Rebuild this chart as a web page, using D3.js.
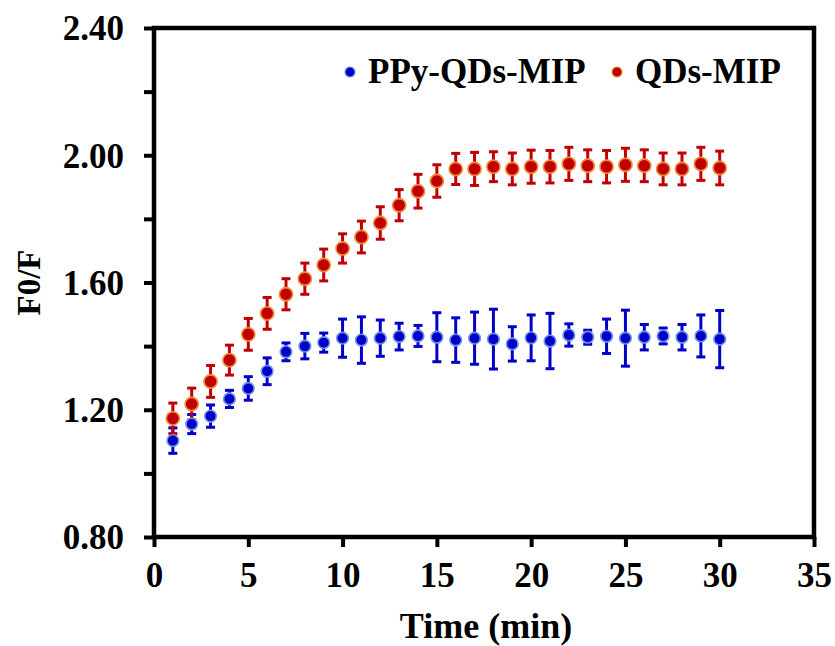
<!DOCTYPE html>
<html>
<head>
<meta charset="utf-8">
<script src="https://cdn.jsdelivr.net/npm/d3@7"></script>
<style>
  body { margin: 0; background: #fff; }
  svg text { font-family: "Times New Roman", "Liberation Serif", serif; font-weight: bold; fill: #000; }
</style>
</head>
<body>
<svg id="chart" width="835" height="646"></svg>
<script>
// time points (min)
const times = d3.range(1, 31);

// PPy-QDs-MIP
const ppyValues = [1.103, 1.155, 1.180, 1.234, 1.267, 1.321, 1.382, 1.400, 1.411, 1.425,
                   1.419, 1.425, 1.430, 1.432, 1.428, 1.419, 1.425, 1.422, 1.407, 1.426,
                   1.416, 1.435, 1.428, 1.431, 1.425, 1.428, 1.432, 1.428, 1.432, 1.422];
const ppyErrors = [0.040, 0.030, 0.035, 0.027, 0.037, 0.042, 0.028, 0.040, 0.030, 0.060,
                   0.073, 0.057, 0.042, 0.033, 0.077, 0.070, 0.082, 0.094, 0.054, 0.072,
                   0.087, 0.035, 0.022, 0.054, 0.088, 0.040, 0.025, 0.040, 0.066, 0.090];

// QDs-MIP
const qdsValues = [1.173, 1.218, 1.289, 1.356, 1.437, 1.503, 1.563, 1.612, 1.655, 1.707,
                   1.743, 1.787, 1.843, 1.887, 1.919, 1.957, 1.957, 1.964, 1.957, 1.964,
                   1.964, 1.973, 1.967, 1.964, 1.970, 1.967, 1.957, 1.957, 1.973, 1.960];
const qdsErrors = [0.048, 0.050, 0.050, 0.047, 0.050, 0.050, 0.049, 0.049, 0.050, 0.046,
                   0.050, 0.051, 0.049, 0.053, 0.051, 0.049, 0.052, 0.047, 0.050, 0.052,
                   0.051, 0.052, 0.050, 0.051, 0.052, 0.050, 0.050, 0.050, 0.052, 0.053];

const xTicks = [0, 5, 10, 15, 20, 25, 30, 35];
const yTicks = [0.8, 1.0, 1.2, 1.4, 1.6, 1.8, 2.0, 2.2, 2.4];
const yLabelTicks = [0.8, 1.2, 1.6, 2.0, 2.4];

const margin = { left: 154, right: 21, top: 28, bottom: 109 };
const width = 835, height = 646;

const svg = d3.select("#chart");

const x = d3.scaleLinear().domain([0, 35]).range([margin.left, width - margin.right]);
const y = d3.scaleLinear().domain([0.8, 2.4]).range([height - margin.bottom, margin.top]);

const series = [
    { name: "PPy-QDs-MIP", values: ppyValues, errors: ppyErrors, fill: "#0000C8", edge: "#6E96E6", r: 5.8, bar: "#0000C8" },
    { name: "QDs-MIP", values: qdsValues, errors: qdsErrors, fill: "#C00000", edge: "#F08C3C", r: 6.6, bar: "#C00000" }
];

// error bars first
series.forEach(s => {
    const g = svg.append("g").attr("stroke", s.bar).attr("stroke-width", 3);
    times.forEach((t, i) => {
        const lo = y(s.values[i] - s.errors[i]), hi = y(s.values[i] + s.errors[i]);
        g.append("line").attr("x1", x(t)).attr("x2", x(t)).attr("y1", lo).attr("y2", hi);
        g.append("line").attr("x1", x(t) - 4.5).attr("x2", x(t) + 4.5).attr("y1", lo).attr("y2", lo);
        g.append("line").attr("x1", x(t) - 4.5).attr("x2", x(t) + 4.5).attr("y1", hi).attr("y2", hi);
    });
});

// markers
series.forEach(s => {
    svg.append("g").selectAll("circle")
        .data(times)
        .join("circle")
        .attr("cx", d => x(d))
        .attr("cy", (d, i) => y(s.values[i]))
        .attr("r", s.r)
        .attr("fill", s.fill)
        .attr("stroke", s.edge)
        .attr("stroke-width", 1.6);
});

// axes
const xAxis = d3.axisBottom(x).tickValues(xTicks).tickSize(10).tickPadding(15).tickFormat(d3.format("d"));
const yAxis = d3.axisLeft(y).tickValues(yTicks).tickSize(10).tickPadding(20)
    .tickFormat(d => yLabelTicks.some(v => Math.abs(v - d) < 1e-9) ? d.toFixed(2) : "");

const gx = svg.append("g").attr("transform", `translate(0,${height - margin.bottom})`).call(xAxis);
const gy = svg.append("g").attr("transform", `translate(${margin.left},0)`).call(yAxis);

[gx, gy].forEach(g => {
    g.select(".domain").remove();
    g.selectAll(".tick line").attr("stroke", "#000").attr("stroke-width", 4);
    g.selectAll(".tick text").style("font-size", "35px");
});
gx.selectAll(".tick text").attr("dy", "0.71em");
gy.selectAll(".tick text").attr("dy", "0.34em");

// frame
svg.append("rect")
    .attr("x", x(0)).attr("y", y(2.4))
    .attr("width", x(35) - x(0)).attr("height", y(0.8) - y(2.4))
    .attr("fill", "none").attr("stroke", "#000").attr("stroke-width", 4.5);

// axis titles
svg.append("text")
    .attr("x", (x(0) + x(35)) / 2 + 2).attr("y", 638)
    .attr("text-anchor", "middle")
    .style("font-size", "36px")
    .text("Time (min)");

svg.append("text")
    .attr("transform", `translate(40,${(y(0.8) + y(2.4)) / 2}) rotate(-90)`)
    .attr("text-anchor", "middle")
    .style("font-size", "33px")
    .text("F0/F");

// legend
const legend = [
    { s: series[0], cx: 350, tx: 368 },
    { s: series[1], cx: 617, tx: 635 }
];
legend.forEach(l => {
    svg.append("circle").attr("cx", l.cx).attr("cy", 72).attr("r", 5)
        .attr("fill", l.s.fill).attr("stroke", l.s.edge).attr("stroke-width", 1.2);
    svg.append("text").attr("x", l.tx).attr("y", 83)
        .style("font-size", "35px")
        .text(l.s.name);
});
</script>
</body>
</html>
